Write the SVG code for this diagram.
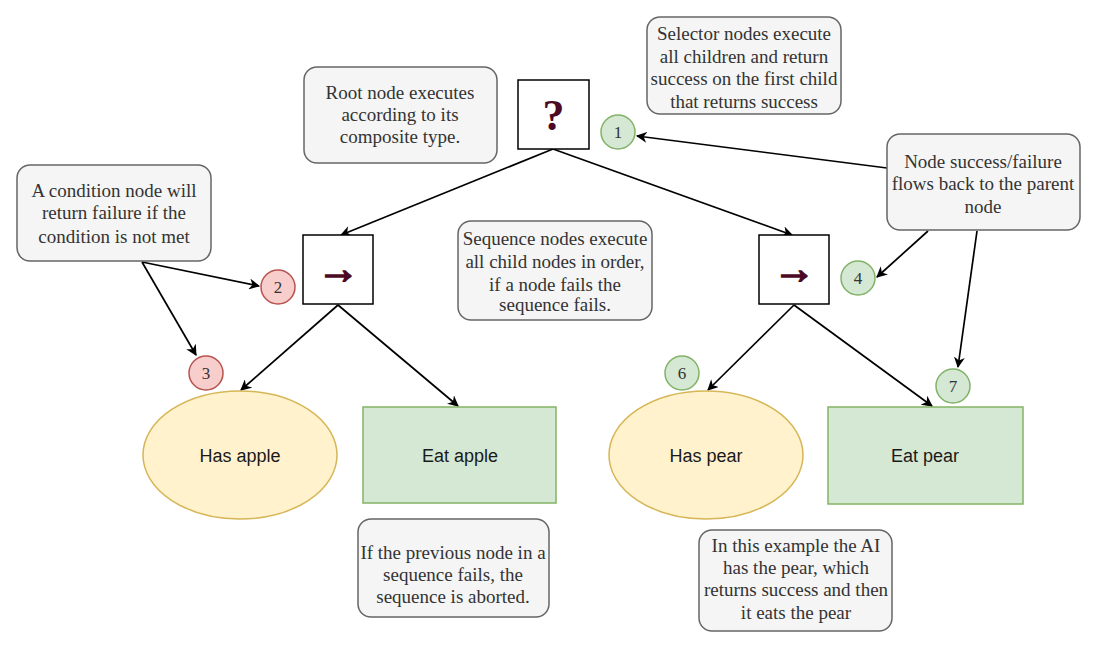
<svg xmlns="http://www.w3.org/2000/svg" width="1100" height="645" viewBox="0 0 1100 645">
<style>
.note{fill:#f5f5f5;stroke:#666666;stroke-width:1.5}
.nt{font-family:"Liberation Serif",serif;font-size:19px;fill:#333333;text-anchor:middle}
.box{fill:#ffffff;stroke:#000000;stroke-width:1.5}
.sym{font-family:"Liberation Serif",serif;font-weight:bold;fill:#4c0a25;text-anchor:middle}
.arr{font-family:"Liberation Sans",sans-serif;fill:#4c0a25;stroke:#4c0a25;stroke-width:1.8;text-anchor:middle}
.g{fill:#d5e8d4;stroke:#82b366;stroke-width:1.5}
.r{fill:#f8cecc;stroke:#b85450;stroke-width:1.5}
.y{fill:#fff2cc;stroke:#d6b656;stroke-width:1.5}
.num{font-family:"Liberation Serif",serif;font-size:17px;fill:#333333;text-anchor:middle}
.lab{font-family:"Liberation Sans",Arial,sans-serif;font-size:18px;fill:#1a1a1a;text-anchor:middle}
.c{stroke:#000000;stroke-width:1.7;fill:none;marker-end:url(#ah)}
</style>
<defs>
<marker id="ah" viewBox="0 0 10 10" refX="9" refY="5" markerWidth="11" markerHeight="11" markerUnits="userSpaceOnUse" orient="auto">
<path d="M0,0 L10,5 L0,10 L3,5 Z" fill="#000000"/>
</marker>
</defs>
<rect width="1100" height="645" fill="#ffffff"/>

<g id="connectors">
<line class="c" x1="553" y1="149" x2="341" y2="235"/>
<line class="c" x1="553" y1="149" x2="792" y2="235"/>
<line class="c" x1="338" y1="305" x2="241" y2="390"/>
<line class="c" x1="338" y1="305" x2="458" y2="406"/>
<line class="c" x1="794" y1="305" x2="708" y2="390"/>
<line class="c" x1="794" y1="305" x2="932" y2="406"/>
<line class="c" x1="887" y1="168" x2="637" y2="136"/>
<line class="c" x1="928" y1="231" x2="877" y2="277"/>
<line class="c" x1="977" y1="231" x2="958" y2="367"/>
<line class="c" x1="142" y1="262" x2="259" y2="286"/>
<line class="c" x1="142" y1="262" x2="196" y2="355"/>
</g>

<g id="root"><rect class="box" x="518" y="80" width="71" height="69"/><text class="sym" x="553.5" y="130" font-size="44">?</text></g>
<g id="seq-left"><rect class="box" x="303" y="235" width="70" height="69"/><text class="arr" x="338" y="283" font-size="42">→</text></g>
<g id="seq-right"><rect class="box" x="759" y="235" width="70" height="69"/><text class="arr" x="794" y="283" font-size="42">→</text></g>

<g id="has-apple"><ellipse class="y" cx="240" cy="455" rx="97" ry="64"/><text class="lab" x="240" y="462">Has apple</text></g>
<g id="eat-apple"><rect class="g" x="363" y="407" width="193" height="96"/><text class="lab" x="460" y="462">Eat apple</text></g>
<g id="has-pear"><ellipse class="y" cx="706" cy="455" rx="97" ry="64"/><text class="lab" x="706" y="462">Has pear</text></g>
<g id="eat-pear"><rect class="g" x="828" y="407" width="195" height="97"/><text class="lab" x="925" y="462">Eat pear</text></g>

<g id="n1"><circle class="g" cx="618" cy="132" r="17"/><text class="num" x="618" y="138">1</text></g>
<g id="n2"><circle class="r" cx="278" cy="287" r="17"/><text class="num" x="278" y="293">2</text></g>
<g id="n3"><circle class="r" cx="206" cy="373" r="17"/><text class="num" x="206" y="379">3</text></g>
<g id="n4"><circle class="g" cx="858" cy="278" r="17"/><text class="num" x="858" y="284">4</text></g>
<g id="n6"><circle class="g" cx="682" cy="373" r="17"/><text class="num" x="682" y="379">6</text></g>
<g id="n7"><circle class="g" cx="953" cy="386" r="17"/><text class="num" x="953" y="392">7</text></g>

<g id="note-root"><rect class="note" x="304" y="67" width="193" height="96" rx="13"/>
<text class="nt" x="400" y="99">Root node executes</text>
<text class="nt" x="400" y="121">according to its</text>
<text class="nt" x="400" y="143">composite type.</text></g>

<g id="note-selector"><rect class="note" x="647" y="17" width="194" height="97" rx="13"/>
<text class="nt" x="744" y="40">Selector nodes execute</text>
<text class="nt" x="744" y="63">all children and return</text>
<text class="nt" x="744" y="85">success on the first child</text>
<text class="nt" x="744" y="108">that returns success</text></g>

<g id="note-flow"><rect class="note" x="887" y="134" width="193" height="96" rx="13"/>
<text class="nt" x="983" y="168">Node success/failure</text>
<text class="nt" x="983" y="190">flows back to the parent</text>
<text class="nt" x="983" y="213">node</text></g>

<g id="note-condition"><rect class="note" x="17" y="165" width="194" height="96" rx="13"/>
<text class="nt" x="114" y="197">A condition node will</text>
<text class="nt" x="114" y="219">return failure if the</text>
<text class="nt" x="114" y="243">condition is not met</text></g>

<g id="note-sequence"><rect class="note" x="458" y="221" width="194" height="99" rx="13"/>
<text class="nt" x="555" y="245">Sequence nodes execute</text>
<text class="nt" x="555" y="268">all child nodes in order,</text>
<text class="nt" x="555" y="291">if a node fails the</text>
<text class="nt" x="555" y="311">sequence fails.</text></g>

<g id="note-abort"><rect class="note" x="358" y="519" width="191" height="98" rx="13"/>
<text class="nt" x="453" y="559">If the previous node in a</text>
<text class="nt" x="453" y="581">sequence fails, the</text>
<text class="nt" x="453" y="603">sequence is aborted.</text></g>

<g id="note-ai"><rect class="note" x="699" y="530" width="193" height="101" rx="13"/>
<text class="nt" x="796" y="552">In this example the AI</text>
<text class="nt" x="796" y="574">has the pear, which</text>
<text class="nt" x="796" y="596">returns success and then</text>
<text class="nt" x="796" y="619">it eats the pear</text></g>
</svg>
